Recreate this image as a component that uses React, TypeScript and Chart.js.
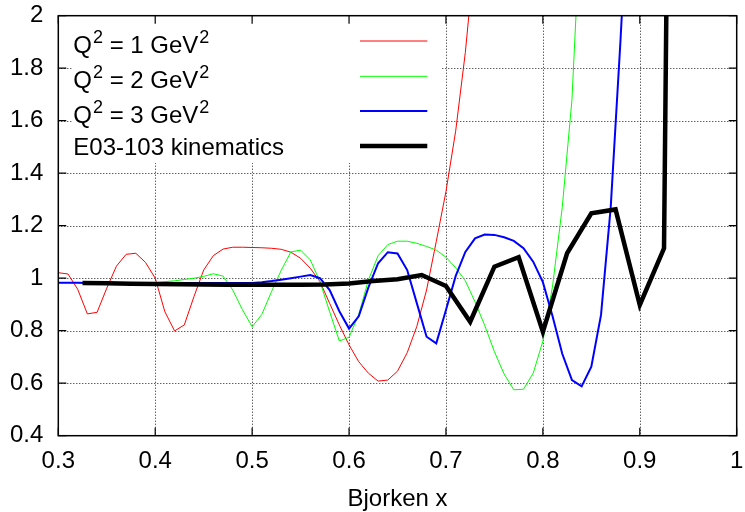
import React, { useEffect, useRef } from "react";
import { Chart, registerables } from "chart.js";

Chart.register(...registerables);

// x grid shared by the three Q^2 curves
const xFine = [
  0.30, 0.31, 0.32, 0.33, 0.34, 0.35, 0.36, 0.37, 0.38, 0.39,
  0.40, 0.41, 0.42, 0.43, 0.44, 0.45, 0.46, 0.47, 0.48, 0.49,
  0.50, 0.51, 0.52, 0.53, 0.54, 0.55, 0.56, 0.57, 0.58, 0.59,
  0.60, 0.61, 0.62, 0.63, 0.64, 0.65, 0.66, 0.67, 0.68, 0.69,
  0.70, 0.71, 0.72, 0.73, 0.74, 0.75, 0.76, 0.77, 0.78, 0.79,
  0.80, 0.81, 0.82, 0.83, 0.84, 0.85, 0.86, 0.87, 0.88, 0.89,
];

const q2Is1 = [
  1.021, 1.016, 0.958, 0.864, 0.870, 0.962, 1.046, 1.091, 1.095, 1.060,
  1.000, 0.872, 0.799, 0.822, 0.930, 1.031, 1.086, 1.111, 1.118, 1.118,
  1.117, 1.116, 1.114, 1.110, 1.099, 1.076, 1.038, 0.987, 0.904, 0.822,
  0.746, 0.682, 0.638, 0.608, 0.612, 0.646, 0.716, 0.817, 0.955, 1.140,
  1.330, 1.560, 1.860, 2.250,
];

const q2Is2 = [
  0.983, 0.983, 0.983, 0.982, 0.982, 0.982, 0.982, 0.982, 0.982, 0.982,
  0.983, 0.987, 0.990, 0.995, 1.000, 1.007, 1.017, 1.008, 0.955, 0.880,
  0.815, 0.862, 0.949, 1.030, 1.100, 1.107, 1.070, 0.987, 0.872, 0.761,
  0.775, 0.862, 0.993, 1.086, 1.128, 1.141, 1.141, 1.133, 1.121, 1.107,
  1.080, 1.040, 0.990, 0.910, 0.820, 0.720, 0.635, 0.575, 0.577, 0.638,
  0.760, 0.970, 1.270, 1.680, 2.450,
];

const q2Is3 = [
  0.983, 0.983, 0.983, 0.982, 0.982, 0.982, 0.982, 0.982, 0.982, 0.982,
  0.982, 0.982, 0.982, 0.982, 0.982, 0.982, 0.982, 0.982, 0.982, 0.982,
  0.982, 0.985, 0.989, 0.994, 1.000, 1.006, 1.012, 1.000, 0.955, 0.874,
  0.808, 0.855, 0.965, 1.057, 1.099, 1.094, 1.031, 0.904, 0.777, 0.752,
  0.879, 1.008, 1.100, 1.152, 1.166, 1.165, 1.156, 1.142, 1.114, 1.063,
  0.985, 0.855, 0.712, 0.612, 0.588, 0.663, 0.860, 1.270, 1.900, 2.600,
];

const xKinematics = [
  0.325, 0.35, 0.375, 0.40, 0.425, 0.45, 0.475, 0.50, 0.525, 0.55,
  0.575, 0.60, 0.625, 0.65, 0.675, 0.70, 0.725, 0.75, 0.775, 0.80,
  0.825, 0.85, 0.875, 0.90, 0.925, 0.95,
];

const kinematics = [
  0.982, 0.981, 0.979, 0.978, 0.977, 0.976, 0.975, 0.975, 0.975, 0.975,
  0.976, 0.980, 0.989, 0.996, 1.012, 0.970, 0.834, 1.044, 1.080, 0.796,
  1.095, 1.247, 1.262, 0.898, 1.114, 10.5,
];

const xTickLabels = ["0.3", "0.4", "0.5", "0.6", "0.7", "0.8", "0.9", "1"];
const yTickLabels = ["0.4", "0.6", "0.8", "1", "1.2", "1.4", "1.6", "1.8", "2"];

const seriesNames = ["Q^2 = 1 GeV^2", "Q^2 = 2 GeV^2", "Q^2 = 3 GeV^2", "E03-103 kinematics"];
const seriesColors = ["#ff0000", "#00ff00", "#0000ff", "#000000"];
const seriesWidths = [1, 1, 2, 4.5];

const FONT = "'Liberation Sans', Arial, Helvetica, sans-serif";

function toPoints(xs: number[], ys: number[]) {
  return ys.map((y, i) => ({ x: xs[i], y }));
}

function labelFor(list: string[], v: number) {
  const hit = list.find((s) => Math.abs(parseFloat(s) - v) < 1e-6);
  return hit === undefined ? "" : hit;
}

// draws "Q^2 = 1 GeV^2" style text with superscripts
function drawRich(ctx: CanvasRenderingContext2D, text: string, x: number, y: number) {
  const parts = text.split(/(\^\d)/);
  let cx = x;
  for (const p of parts) {
    if (!p) continue;
    if (p.startsWith("^")) {
      ctx.font = `18px ${FONT}`;
      ctx.fillText(p.slice(1), cx + 1, y - 9.5);
      cx += ctx.measureText(p.slice(1)).width + 1;
    } else {
      ctx.font = `24px ${FONT}`;
      ctx.fillText(p, cx, y);
      cx += ctx.measureText(p).width;
    }
  }
}

const framePlugin = {
  id: "gnuFrame",
  beforeDatasetsDraw(chart: any) {
    const { ctx, chartArea: a, scales } = chart;
    const xs = scales.x;
    const ys = scales.y;
    ctx.save();
    ctx.strokeStyle = "rgba(0,0,0,0.9)";
    ctx.lineWidth = 1;
    ctx.setLineDash([1, 2]);
    xs.ticks.forEach((t: any, i: number) => {
      if (i === 0 || i === xs.ticks.length - 1) return;
      const px = Math.round(xs.getPixelForValue(t.value)) + 0.5;
      ctx.beginPath();
      ctx.moveTo(px, a.top);
      ctx.lineTo(px, a.bottom);
      ctx.stroke();
    });
    ys.ticks.forEach((t: any, i: number) => {
      if (i === 0 || i === ys.ticks.length - 1) return;
      const py = Math.round(ys.getPixelForValue(t.value)) + 0.5;
      ctx.beginPath();
      ctx.moveTo(a.left, py);
      ctx.lineTo(a.right, py);
      ctx.stroke();
    });
    ctx.restore();
  },
  afterDatasetsDraw(chart: any) {
    const { ctx, chartArea: a, scales } = chart;
    const xs = scales.x;
    const ys = scales.y;
    ctx.save();
    // opaque key box
    ctx.fillStyle = "#ffffff";
    ctx.fillRect(72, a.top, 441.5 - 72, 163 - a.top);

    // frame
    ctx.strokeStyle = "#000";
    ctx.lineWidth = 1.5;
    ctx.setLineDash([]);
    ctx.strokeRect(a.left, a.top, a.right - a.left, a.bottom - a.top);

    // inward ticks on all four sides
    const tl = 8;
    ctx.lineWidth = 1.2;
    xs.ticks.forEach((t: any) => {
      const px = xs.getPixelForValue(t.value);
      ctx.beginPath();
      ctx.moveTo(px, a.bottom);
      ctx.lineTo(px, a.bottom - tl);
      ctx.moveTo(px, a.top);
      ctx.lineTo(px, a.top + tl);
      ctx.stroke();
    });
    ys.ticks.forEach((t: any) => {
      const py = ys.getPixelForValue(t.value);
      ctx.beginPath();
      ctx.moveTo(a.left, py);
      ctx.lineTo(a.left + tl, py);
      ctx.moveTo(a.right, py);
      ctx.lineTo(a.right - tl, py);
      ctx.stroke();
    });

    // key
    const lineY = [41, 76.3, 111, 146];
    const textY = [52.5, 87.5, 122.5, 155];
    ctx.fillStyle = "#000";
    ctx.textBaseline = "alphabetic";
    ctx.textAlign = "left";
    seriesNames.forEach((name, i) => {
      drawRich(ctx, name, 73.3, textY[i]);
      ctx.strokeStyle = seriesColors[i];
      ctx.lineWidth = seriesWidths[i];
      ctx.beginPath();
      ctx.moveTo(360, lineY[i]);
      ctx.lineTo(427.3, lineY[i]);
      ctx.stroke();
    });
    ctx.restore();
  },
};

export default function App() {
  const ref = useRef<HTMLCanvasElement | null>(null);

  useEffect(() => {
    document.body.style.margin = "0";
    const canvas = ref.current;
    if (!canvas) return;
    const mk = (i: number, data: { x: number; y: number }[], order: number) => ({
      label: seriesNames[i],
      data,
      borderColor: seriesColors[i],
      backgroundColor: seriesColors[i],
      borderWidth: seriesWidths[i],
      pointRadius: 0,
      tension: 0,
      fill: false,
      clip: 0,
      order,
    });
    const chart = new Chart(canvas, {
      type: "line",
      data: {
        datasets: [
          mk(0, toPoints(xFine, q2Is1), 4),
          mk(1, toPoints(xFine, q2Is2), 3),
          mk(2, toPoints(xFine, q2Is3), 2),
          mk(3, toPoints(xKinematics, kinematics), 1),
        ] as any,
      },
      options: {
        responsive: false,
        animation: false,
        devicePixelRatio: 1,
        layout: { padding: { top: 15.7, right: 8.3, left: 0, bottom: 0 } },
        plugins: {
          legend: { display: false },
          tooltip: { enabled: false },
        },
        scales: {
          x: {
            type: "linear",
            min: 0.3,
            max: 1,
            grid: { display: false, drawTicks: false, tickLength: 0 },
            border: { display: false },
            ticks: {
              stepSize: 0.1,
              autoSkip: false,
              maxRotation: 0,
              minRotation: 0,
              padding: 11,
              color: "#000",
              font: { family: FONT, size: 24 },
              callback: (v: any) => labelFor(xTickLabels, Number(v)),
            },
            title: {
              display: true,
              text: "Bjorken x",
              color: "#000",
              font: { family: FONT, size: 24 },
              padding: { top: 0, bottom: -2 },
            },
            afterFit: (s: any) => {
              s.height = 76.3;
              s.paddingLeft = 0;
              s.paddingRight = 0;
            },
          },
          y: {
            type: "linear",
            min: 0.4,
            max: 2,
            grid: { display: false, drawTicks: false, tickLength: 0 },
            border: { display: false },
            ticks: {
              stepSize: 0.2,
              autoSkip: false,
              padding: 15,
              color: "#000",
              font: { family: FONT, size: 24 },
              callback: (v: any) => labelFor(yTickLabels, Number(v)),
            },
            afterFit: (s: any) => {
              s.width = 58.3;
              s.paddingTop = 0;
              s.paddingBottom = 0;
            },
          },
        },
      } as any,
      plugins: [framePlugin],
    });
    return () => chart.destroy();
  }, []);

  return (
    <div style={{ width: 745, height: 512 }}>
      <canvas ref={ref} width={745} height={512} style={{ display: "block" }} />
    </div>
  );
}
